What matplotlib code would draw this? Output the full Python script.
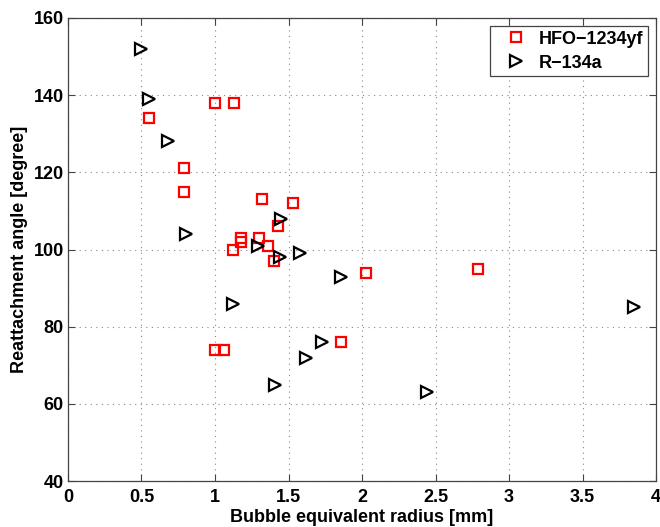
import matplotlib
matplotlib.use("Agg")
import matplotlib.pyplot as plt

plt.rcParams['font.family'] = ['Liberation Sans', 'DejaVu Sans']
plt.rcParams['font.weight'] = 'bold'

# HFO-1234yf (red squares)
hfo_r = [0.55, 1.00, 1.13, 0.79, 0.79, 1.32, 1.53, 1.43, 1.18, 1.18,
         1.12, 1.30, 1.36, 1.40, 2.03, 1.00, 1.06, 1.86, 2.79]
hfo_a = [134, 138, 138, 121, 115, 113, 112, 106, 103, 102,
         100, 103, 101, 97, 94, 74, 74, 76, 95]

# R-134a (black triangles)
r134_r = [0.50, 0.55, 0.68, 0.80, 1.45, 1.29, 1.44, 1.58, 1.86, 1.12,
          1.73, 1.62, 1.41, 2.44, 3.85]
r134_a = [152, 139, 128, 104, 108, 101, 98, 99, 93, 86,
          76, 72, 65, 63, 85]

xticks = [0, 0.5, 1, 1.5, 2, 2.5, 3, 3.5, 4]
yticks = [40, 60, 80, 100, 120, 140, 160]

fig = plt.figure(figsize=(6.6, 5.27), dpi=100)
ax = fig.add_axes([0.103, 0.087, 0.891, 0.879])

ax.plot(hfo_r, hfo_a, 's', mfc='none', mec='red', mew=1.6, ms=7,
        label='HFO\u22121234yf')
ax.plot(r134_r, r134_a, '>', mfc='none', mec='black', mew=1.6, ms=9,
        label='R\u2212134a')

ax.set_xlim(0, 4)
ax.set_ylim(40, 160)
ax.set_xticks(xticks)
ax.set_xticklabels(['0', '0.5', '1', '1.5', '2', '2.5', '3', '3.5', '4'])
ax.set_yticks(yticks)
ax.tick_params(direction='in', top=True, right=True, labelsize=13,
               length=5, width=0.8, color='#444444', pad=3)
ax.tick_params(axis='x', pad=6)
for s in ax.spines.values():
    s.set_color('#444444')
    s.set_linewidth(0.9)

ax.grid(True, linestyle=(0, (1, 4)), color='#888888', linewidth=0.8)

ax.set_xlabel('Bubble equivalent radius [mm]', fontsize=13, fontweight='bold',
              labelpad=2)
ax.set_ylabel('Reattachment angle [degree]', fontsize=13, fontweight='bold',
              labelpad=4)

leg = ax.legend(loc='upper right', fontsize=13, fancybox=False,
                edgecolor='#444444', framealpha=1, borderaxespad=0.45,
                handlelength=2.4, handletextpad=0.05, borderpad=0.25,
                labelspacing=0.4)
leg.get_frame().set_linewidth(0.9)

plt.savefig('out.png', dpi=100)
